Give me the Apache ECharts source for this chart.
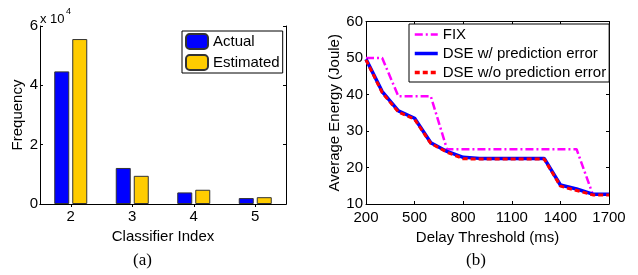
<!DOCTYPE html>
<html>
<head>
<meta charset="utf-8">
<script src="https://cdn.jsdelivr.net/npm/echarts@6/dist/echarts.min.js"></script>
<style>
  html, body { margin: 0; padding: 0; background: #fff; }
  #main { width: 638px; height: 275px; }
</style>
</head>
<body>
<div id="main"></div>
<script>
// (a) classifier frequency
const classifiers = ['2', '3', '4', '5']
const actual = [44700, 12150, 3900, 2000]
const estimated = [55600, 9500, 4800, 2300]
const freqTicks = [0, 2, 4, 6]   // in units of 1e4

// (b) energy vs delay threshold
const delays = ['200', '300', '400', '500', '600', '700', '800', '900',
  '1000', '1100', '1200', '1300', '1400', '1500', '1600', '1700']
const fixEnergy = [50, 50, 39.5, 39.5, 39.5, 25, 25, 25, 25, 25, 25, 25, 25, 25, 12.6, 12.6]
const dseWithErr = [49.7, 40.8, 35.5, 33.5, 26.8, 24.4, 22.8, 22.5, 22.5, 22.5, 22.5, 22.5, 15.2, 14.1, 12.7, 12.7]
const dseNoErr = [49.5, 40.5, 35.2, 33.2, 26.6, 24.2, 22.4, 22.3, 22.3, 22.3, 22.3, 22.3, 14.9, 13.7, 12.5, 12.5]

const font = 'Liberation Sans, Arial, Helvetica, sans-serif'
const black = '#000'

const chart = echarts.init(document.getElementById('main'), null, { renderer: 'canvas' })

// box axes (top / right) with inward ticks and no labels
const boxX = (grid, type, extra) => Object.assign({
  gridIndex: grid, type: type, position: 'top',
  axisLine: { show: true, lineStyle: { color: black, width: 1 } },
  axisTick: { show: true, inside: true, length: 3, lineStyle: { color: black } },
  axisLabel: { show: false }, splitLine: { show: false }
}, extra)
const boxY = (grid, extra) => Object.assign({
  gridIndex: grid, type: 'value', position: 'right',
  axisLine: { show: true, lineStyle: { color: black, width: 1 } },
  axisTick: { show: true, inside: true, length: 3, lineStyle: { color: black } },
  axisLabel: { show: false }, splitLine: { show: false }
}, extra)

const option = {
  animation: false,
  backgroundColor: '#fff',
  textStyle: { fontFamily: font, color: black },
  grid: [
    { left: 40, top: 26, width: 246, height: 178 },
    { left: 366, top: 21.5, width: 243, height: 182.5 }
  ],
  xAxis: [
    {
      gridIndex: 0, type: 'category', data: classifiers,
      name: 'Classifier Index', nameLocation: 'middle', nameGap: 20,
      nameTextStyle: { fontSize: 15, color: black, fontFamily: font },
      axisLine: { lineStyle: { color: black, width: 1 } },
      axisTick: { inside: true, length: 3, alignWithLabel: true, lineStyle: { color: black } },
      axisLabel: { fontSize: 15, color: black, margin: 5, fontFamily: font }
    },
    boxX(0, 'category', { data: classifiers, axisTick: { show: true, inside: true, length: 3, alignWithLabel: true, lineStyle: { color: black } } }),
    {
      gridIndex: 1, type: 'category', data: delays, boundaryGap: false,
      name: 'Delay Threshold (ms)', nameLocation: 'middle', nameGap: 20,
      nameTextStyle: { fontSize: 15, color: black, fontFamily: font },
      axisLine: { lineStyle: { color: black, width: 1 } },
      axisTick: { inside: true, length: 3, interval: 2, lineStyle: { color: black } },
      axisLabel: { fontSize: 15, color: black, margin: 6, interval: 2, fontFamily: font }
    },
    boxX(1, 'category', { data: delays, boundaryGap: false,
      axisTick: { show: true, inside: true, length: 3, interval: 2, lineStyle: { color: black } } })
  ],
  yAxis: [
    {
      gridIndex: 0, type: 'value', min: 0, max: 60000, interval: 20000,
      name: 'Frequency', nameLocation: 'middle', nameGap: 15,
      nameTextStyle: { fontSize: 15, color: black, fontFamily: font },
      axisLine: { show: true, lineStyle: { color: black, width: 1 } },
      axisTick: { show: true, inside: true, length: 3, lineStyle: { color: black } },
      axisLabel: { fontSize: 15, color: black, margin: 2, fontFamily: font,
        formatter: v => freqTicks.includes(v / 10000) ? String(v / 10000) : '' },
      splitLine: { show: false }
    },
    boxY(0, { min: 0, max: 60000, interval: 20000 }),
    {
      gridIndex: 1, type: 'value', min: 10, max: 60, interval: 10,
      name: 'Average Energy (Joule)', nameLocation: 'middle', nameGap: 24,
      nameTextStyle: { fontSize: 15, color: black, fontFamily: font },
      axisLine: { show: true, lineStyle: { color: black, width: 1 } },
      axisTick: { show: true, inside: true, length: 3, lineStyle: { color: black } },
      axisLabel: { fontSize: 15, color: black, margin: 3, fontFamily: font },
      splitLine: { show: false }
    },
    boxY(1, { min: 10, max: 60, interval: 10 })
  ],
  legend: [
    {
      left: 182, top: 31, orient: 'vertical',
      data: ['Actual', 'Estimated'],
      itemWidth: 22, itemHeight: 15, itemGap: 4,
      padding: [2, 3, 2, 3],
      borderColor: black, borderWidth: 1, backgroundColor: '#fff',
      textStyle: { fontSize: 15, color: black, fontFamily: font },
      selectedMode: false
    },
    {
      left: 409, top: 24, orient: 'vertical',
      data: [
        { name: 'FIX', lineStyle: { width: 2.5, type: [8, 3, 2, 3] } },
        { name: 'DSE w/ prediction error', lineStyle: { width: 3.5 } },
        { name: 'DSE w/o prediction error', lineStyle: { width: 3.5, type: [5, 3] } }
      ],
      itemWidth: 23, itemHeight: 14, itemGap: 4,
      padding: [3, 3, 2, 4],
      borderColor: black, borderWidth: 1, backgroundColor: '#fff',
      textStyle: { fontSize: 15, color: black, fontFamily: font },
      // hide the circle marker, keep only the line sample
      itemStyle: { color: 'rgba(0,0,0,0)', borderWidth: 0, opacity: 0 },
      selectedMode: false
    }
  ],
  graphic: [
    { type: 'text', left: 40, top: 13, style: { text: 'x 10', font: '13px ' + font, fill: black } },
    { type: 'text', left: 66, top: 7, style: { text: '4', font: '9px ' + font, fill: black } },
    { type: 'text', left: 133, top: 252, style: { text: '(a)', font: '17px Liberation Serif, Times New Roman, serif', fill: black } },
    { type: 'text', left: 466, top: 252, style: { text: '(b)', font: '17px Liberation Serif, Times New Roman, serif', fill: black } }
  ],
  series: [
    {
      name: 'Actual', type: 'bar', xAxisIndex: 0, yAxisIndex: 0,
      data: actual, barWidth: 15, barGap: '20%',
      itemStyle: { color: '#0000ff', borderColor: '#333', borderWidth: 1 }
    },
    {
      name: 'Estimated', type: 'bar', xAxisIndex: 0, yAxisIndex: 0,
      data: estimated, barWidth: 15, barGap: '20%',
      itemStyle: { color: '#ffcc00', borderColor: '#333', borderWidth: 1 }
    },
    {
      name: 'FIX', type: 'line', xAxisIndex: 2, yAxisIndex: 2,
      data: fixEnergy, symbol: 'none',
      lineStyle: { color: '#ff00ff', width: 2.5, type: [8, 3, 2, 3] },
      itemStyle: { color: '#ff00ff' }
    },
    {
      name: 'DSE w/ prediction error', type: 'line', xAxisIndex: 2, yAxisIndex: 2,
      data: dseWithErr, symbol: 'none',
      lineStyle: { color: '#0000ff', width: 3.5 },
      itemStyle: { color: '#0000ff' }
    },
    {
      name: 'DSE w/o prediction error', type: 'line', xAxisIndex: 2, yAxisIndex: 2,
      data: dseNoErr, symbol: 'none',
      lineStyle: { color: '#ff0000', width: 3, type: [5, 3] },
      itemStyle: { color: '#ff0000' }
    }
  ]
}

chart.setOption(option)
window.onresize = function () {
  chart.resize()
}
</script>
</body>
</html>
